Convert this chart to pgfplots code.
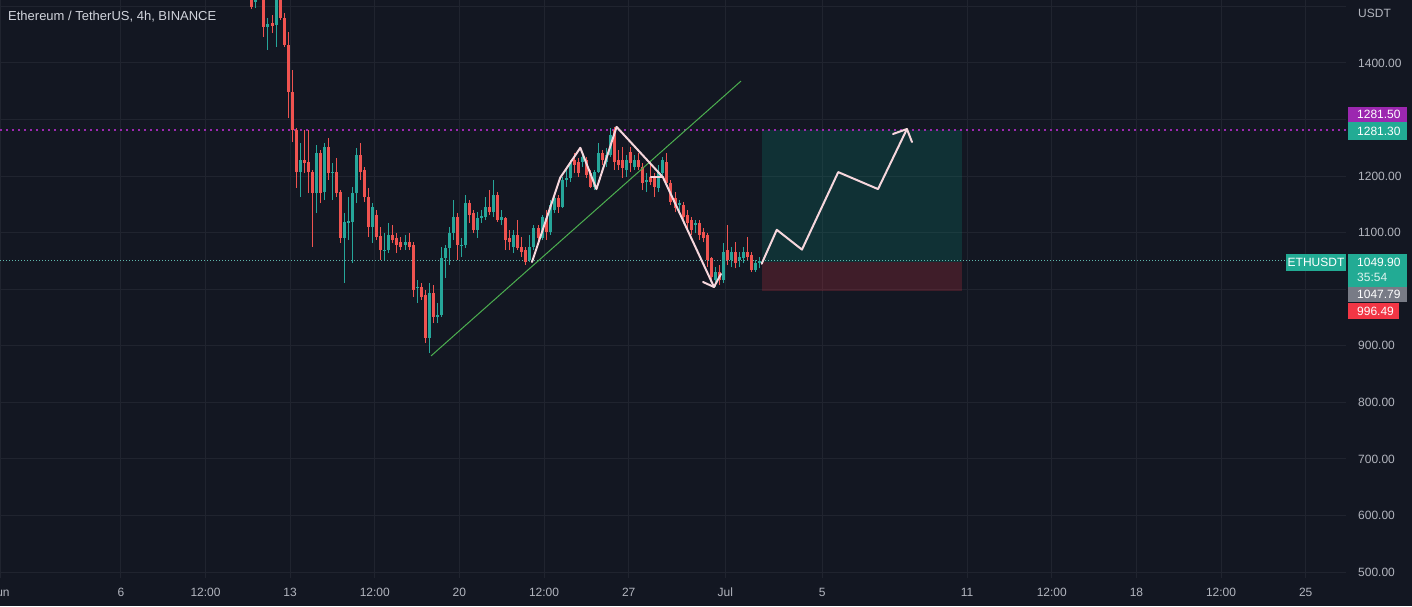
\documentclass[border=0pt]{standalone}
\usepackage{fontspec}
\setmainfont{Liberation Sans}
\usepackage{pgfplots}
\usepackage{pgfplotstable}
\pgfplotsset{compat=1.18}

\definecolor{bgc}{HTML}{131722}
\definecolor{gridc}{HTML}{20242F}
\definecolor{tickc}{HTML}{B2B5BE}
\definecolor{titlec}{HTML}{D1D4DC}
\definecolor{upc}{HTML}{26A69A}
\definecolor{dnc}{HTML}{EF5350}
\definecolor{boxup}{HTML}{089981}
\definecolor{boxdn}{HTML}{F23645}
\definecolor{purp}{HTML}{9C27B0}
\definecolor{curc}{HTML}{5FB8AD}
\definecolor{trend}{HTML}{4CAF50}
\definecolor{pathc}{HTML}{F6D6DC}
\definecolor{lblteal}{HTML}{22AB94}
\definecolor{lblgray}{HTML}{787B86}
\definecolor{lblred}{HTML}{F23645}

% 4h candles, x in hours since 1 Jun 00:00
\pgfplotstableread{
x o h l c
254 1508 1547 1497 1529
266 1464 1480 1423 1469
274 1467 1529 1428 1520
298 1207 1258 1163 1228
314 1170 1255 1135 1241
322 1172 1258 1158 1251
330 1205 1223 1158 1208
342 1091 1135 1011 1119
346 1117 1163 1087 1120
350 1119 1181 1046 1170
354 1170 1250 1152 1237
370 1110 1152 1082 1145
382 1068 1099 1052 1070
386 1069 1117 1064 1096
402 1078 1096 1069 1083
414 1002 1016 976 1004
426 914 1011 887 993
434 951 976 940 954
438 954 1075 951 1055
442 1055 1078 1020 1073
446 1073 1110 1043 1099
450 1099 1158 1087 1128
458 1076 1091 1057 1078
462 1078 1167 1073 1152
474 1105 1136 1091 1126
478 1126 1140 1117 1129
482 1128 1163 1122 1145
490 1136 1193 1128 1167
498 1122 1140 1114 1128
510 1075 1105 1064 1096
526 1052 1096 1048 1075
530 1075 1114 1069 1108
538 1091 1131 1087 1128
546 1101 1158 1096 1149
550 1140 1172 1135 1161
558 1145 1198 1144 1193
562 1193 1211 1181 1197
566 1197 1228 1190 1223
578 1225 1241 1216 1234
590 1181 1211 1175 1207
594 1207 1258 1205 1241
602 1225 1250 1216 1237
606 1237 1285 1234 1273
622 1211 1237 1198 1228
630 1216 1237 1211 1228
642 1190 1205 1172 1193
654 1179 1220 1172 1207
658 1205 1234 1197 1228
674 1149 1158 1135 1152
690 1114 1122 1099 1117
710 1016 1039 1004 1030
718 1016 1082 1011 1066
726 1052 1075 1039 1066
734 1052 1066 1039 1057
738 1055 1075 1046 1066
750 1034 1052 1030 1046
754 1046 1057 1037 1050
}\up

\pgfplotstableread{
x o h l c
250 1525 1538 1495 1499
258 1564 1582 1515 1520
262 1520 1529 1446 1464
270 1471 1485 1453 1465
278 1517 1525 1476 1480
282 1480 1488 1428 1432
286 1432 1455 1303 1349
290 1349 1388 1260 1282
294 1282 1285 1179 1207
302 1228 1282 1205 1223
306 1225 1282 1170 1207
310 1207 1211 1075 1170
318 1241 1246 1152 1170
326 1251 1267 1193 1205
334 1207 1232 1163 1170
338 1172 1175 1082 1091
358 1237 1258 1193 1207
362 1211 1216 1154 1163
366 1163 1179 1092 1110
374 1131 1140 1087 1092
378 1094 1110 1052 1069
390 1096 1114 1082 1087
394 1091 1099 1064 1078
398 1083 1092 1069 1075
406 1083 1099 1069 1075
410 1078 1083 986 999
418 1004 1011 981 986
422 990 999 905 914
430 993 1007 940 951
454 1128 1135 1052 1078
466 1152 1158 1117 1131
470 1135 1140 1099 1105
486 1145 1175 1131 1136
494 1167 1172 1119 1122
502 1126 1128 1069 1087
506 1091 1105 1069 1083
514 1096 1122 1069 1073
518 1075 1092 1057 1066
522 1069 1075 1043 1048
534 1108 1114 1087 1091
542 1126 1140 1087 1101
554 1161 1167 1135 1145
570 1228 1241 1205 1220
574 1225 1232 1198 1205
582 1228 1234 1197 1202
586 1205 1211 1179 1181
598 1241 1246 1220 1228
610 1282 1287 1211 1225
614 1228 1246 1211 1220
618 1228 1251 1197 1214
626 1243 1251 1207 1223
634 1228 1241 1211 1216
638 1216 1223 1175 1188
646 1198 1220 1184 1190
650 1197 1205 1163 1181
662 1225 1241 1181 1188
666 1188 1193 1149 1154
670 1161 1172 1136 1144
678 1149 1154 1122 1128
682 1131 1140 1105 1117
686 1122 1128 1096 1105
694 1117 1122 1087 1096
698 1101 1108 1083 1091
702 1096 1099 1039 1052
706 1055 1057 1016 1022
714 1030 1043 1007 1016
722 1069 1114 1043 1052
730 1066 1083 1037 1046
742 1066 1092 1052 1057
746 1060 1066 1030 1034
}\down

\newcommand\lbl{\fontsize{12}{14}\selectfont}

\begin{document}
\begin{tikzpicture}
\fill[bgc] (0,0) rectangle (1412pt,606pt);
\begin{axis}[
  at={(0pt,28pt)}, anchor=south west,
  scale only axis, width=1346pt, height=578pt,
  xmin=0, xmax=1336, ymin=489.4, ymax=1511.3,
  axis line style={draw=none},
  clip mode=individual,
  major tick length=0pt,
  grid=major, major grid style={draw=gridc, line width=1pt},
  xtick={0,120,204,288,372,456,540,624,720,816,960,1044,1128,1212,1296},
  xticklabels={Jun,6,12:00,13,12:00,20,12:00,27,Jul,5,11,12:00,18,12:00,25},
  ytick={500,600,...,1500},
  yticklabels={500.00,600.00,700.00,800.00,900.00,,1100.00,1200.00,,1400.00,},
  yticklabel pos=right,
  tick label style={font=\lbl, text=tickc},
  xticklabel style={anchor=center, yshift=-14pt},
  yticklabel style={anchor=west, inner sep=0pt, xshift=12pt},
]
% long position box
\addplot[draw=none, fill=boxup, fill opacity=0.2] coordinates {(756.3,1047.79) (954.8,1047.79) (954.8,1281.3) (756.3,1281.3)} --cycle;
\addplot[draw=none, fill=boxdn, fill opacity=0.2] coordinates {(756.3,996.49) (954.8,996.49) (954.8,1047.79) (756.3,1047.79)} --cycle;
% horizontal line and last price line
\addplot[purp, line width=1.5pt, dash pattern=on 1.5pt off 4.5pt] coordinates {(0,1281.5) (1336,1281.5)};
\addplot[curc, line width=1pt, dash pattern=on 1pt off 2pt] coordinates {(0,1049.9) (1275,1049.9)};
% wicks
\addplot[draw=none, mark=none, error bars/.cd, y dir=plus, y explicit, error mark=none,
  error bar style={draw=upc, line width=1pt}]
  table[x=x, y=l, y error plus expr=\thisrow{h}-\thisrow{l}] {\up};
\addplot[draw=none, mark=none, error bars/.cd, y dir=plus, y explicit, error mark=none,
  error bar style={draw=dnc, line width=1pt}]
  table[x=x, y=l, y error plus expr=\thisrow{h}-\thisrow{l}] {\down};
% bodies
\addplot[draw=none, mark=none, error bars/.cd, y dir=plus, y explicit, error mark=none,
  error bar style={draw=upc, line width=3pt}]
  table[x=x, y=o, y error plus expr=\thisrow{c}-\thisrow{o}] {\up};
\addplot[draw=none, mark=none, error bars/.cd, y dir=plus, y explicit, error mark=none,
  error bar style={draw=dnc, line width=3pt}]
  table[x=x, y=c, y error plus expr=\thisrow{o}-\thisrow{c}] {\down};
% trend line
\addplot[trend, line width=1pt] coordinates {(427.8,882) (735.5,1368)};
% drawn paths
\addplot[pathc, line width=2pt, line join=round, line cap=round] coordinates {
  (528,1048) (556,1197) (576,1250) (592,1177) (612,1287) (658,1198) (708.7,1003.9)};
\addplot[pathc, line width=2pt, line cap=round] coordinates {(646,1198) (658,1198)};
\addplot[pathc, line width=2pt, line join=round, line cap=round] coordinates {
  (697.8,1012.7) (708.7,1003.9) (715.6,1026.9)};
\addplot[pathc, line width=2pt, line join=round, line cap=round] coordinates {
  (756,1045) (771,1105) (796,1070) (832,1207) (871.5,1177) (900.2,1283.2)};
\addplot[pathc, line width=2pt, line join=round, line cap=round] coordinates {
  (886.4,1274.4) (900.2,1283.2) (905.2,1260.2)};
\end{axis}
% title
\node[anchor=west, inner sep=0pt, text=titlec, font=\fontsize{13}{15}\selectfont] at (8pt,589pt) {Ethereum / TetherUS, 4h, BINANCE};
\node[anchor=west, inner sep=0pt, text=tickc, font=\lbl] at (1358pt,593pt) {USDT};
% price scale labels
\fill[purp] (1348pt,484pt) rectangle (1407pt,499pt);
\node[anchor=west, inner sep=0pt, text=white, font=\lbl] at (1357pt,491.5pt) {1281.50};
\fill[lblteal] (1348pt,466pt) rectangle (1407pt,484pt);
\node[anchor=west, inner sep=0pt, text=white, font=\lbl] at (1357pt,475pt) {1281.30};
\fill[lblteal] (1286pt,335pt) rectangle (1346pt,352pt);
\node[inner sep=0pt, text=white, font=\lbl] at (1316pt,343.5pt) {ETHUSDT};
\fill[lblteal] (1348pt,319pt) rectangle (1407pt,352pt);
\node[anchor=west, inner sep=0pt, text=white, font=\lbl] at (1357pt,344pt) {1049.90};
\node[anchor=west, inner sep=0pt, text=white!85!lblteal, font=\lbl] at (1357pt,329pt) {35:54};
\fill[lblgray] (1348pt,304pt) rectangle (1407pt,319pt);
\node[anchor=west, inner sep=0pt, text=white, font=\lbl] at (1357pt,311.5pt) {1047.79};
\fill[lblred] (1348pt,287pt) rectangle (1399pt,303pt);
\node[anchor=west, inner sep=0pt, text=white, font=\lbl] at (1357pt,295pt) {996.49};
\pgfresetboundingbox
\path[use as bounding box] (0,0) rectangle (1412pt,606pt);
\end{tikzpicture}
\end{document}
